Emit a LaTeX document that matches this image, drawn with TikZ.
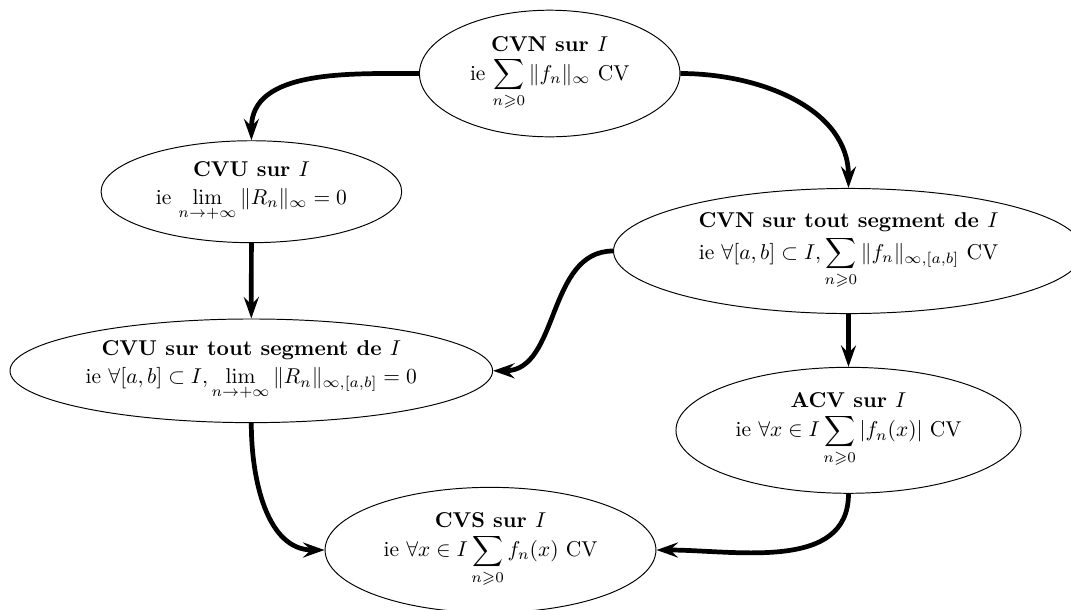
\documentclass[tikz,border=0pt]{standalone}
\usepackage{amsmath,amssymb}
\usetikzlibrary{shapes.geometric,arrows.meta}
\tikzset{
  state/.style={draw, ellipse, inner sep=0pt, align=center, line width=0.45pt},
  conn/.style={line width=2.2pt, -{Stealth[length=10pt,width=7pt,inset=3.5pt]}}
}
\begin{document}
\begin{tikzpicture}[x=0.466pt,y=-0.466pt]
\useasboundingbox (0,0) rectangle (1071,609);
\node[state, minimum width=121.4pt, minimum height=59pt] (cvn) at (549.7,73.5)
  {\textbf{CVN sur $I$}\\[1.5pt] ie $\displaystyle\sum_{n\geqslant 0}\|f_n\|_\infty$ CV};
\node[state, minimum width=140.1pt, minimum height=47.5pt] (cvu) at (251.4,191.7)
  {\textbf{CVU sur $I$}\\[1pt] ie $\displaystyle\lim_{n\to+\infty}\|R_n\|_\infty=0$};
\node[state, minimum width=219pt, minimum height=58.3pt] (cvnseg) at (848.5,251)
  {\textbf{CVN sur tout segment de $I$}\\[1.5pt] ie $\forall[a,b]\subset I,\displaystyle\sum_{n\geqslant 0}\|f_n\|_{\infty,[a,b]}$ CV};
\node[state, minimum width=224.9pt, minimum height=48.3pt] (cvuseg) at (251.3,370.8)
  {\textbf{CVU sur tout segment de $I$}\\[1pt] ie $\forall[a,b]\subset I,\displaystyle\lim_{n\to+\infty}\|R_n\|_{\infty,[a,b]}=0$};
\node[state, minimum width=160.8pt, minimum height=58.7pt] (acv) at (848.5,430.3)
  {\textbf{ACV sur $I$}\\[1.5pt] ie $\forall x\in I\displaystyle\sum_{n\geqslant 0}|f_n(x)|$ CV};
\node[state, minimum width=154.2pt, minimum height=58.4pt] (cvs) at (490.5,550)
  {\textbf{CVS sur $I$}\\[1.5pt] ie $\forall x\in I\displaystyle\sum_{n\geqslant 0}f_n(x)$ CV};
\draw[conn] (cvn.west) to[out=180,in=90] (cvu.north);
\draw[conn] (cvn.east) to[out=0,in=90] (cvnseg.north);
\draw[conn] (cvu.south) -- (cvuseg.north);
\draw[conn] (cvnseg.west) to[out=180,in=0] (cvuseg.east);
\draw[conn] (cvnseg.south) -- (acv.north);
\draw[conn] (cvuseg.south) to[out=-90,in=180] (cvs.west);
\draw[conn] (acv.south) to[out=-90,in=0] (cvs.east);
\end{tikzpicture}
\end{document}
